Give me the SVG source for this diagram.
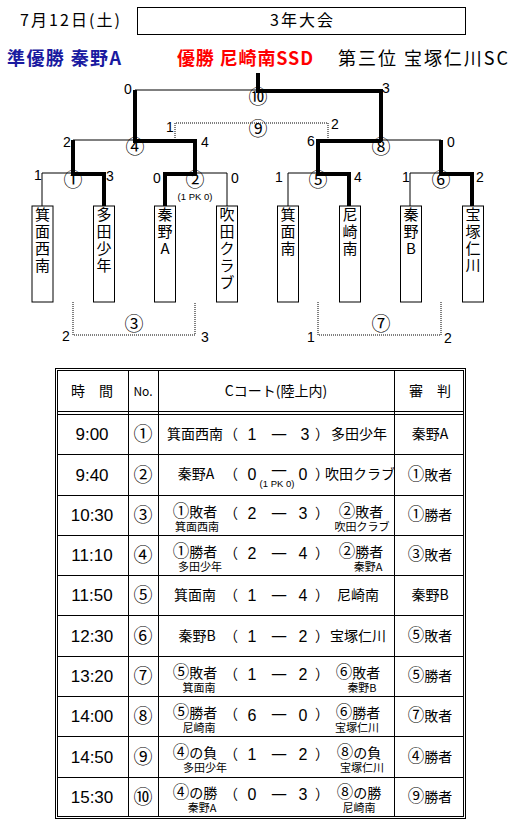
<svg xmlns="http://www.w3.org/2000/svg" width="518" height="826" viewBox="0 0 518 826">
<style>
.j{font-family:"Noto Sans CJK JP",sans-serif;fill:#000}
.n{font-family:"Liberation Sans",sans-serif;font-size:14px;text-anchor:middle;fill:#000}
.pk{font-family:"Liberation Sans",sans-serif;font-size:9.5px;text-anchor:middle;fill:#000}
.c{font-family:"Noto Sans CJK JP",sans-serif;font-size:19px;text-anchor:middle}
.ci{font-family:"Noto Sans CJK JP",sans-serif;font-size:16.5px}
.thin{fill:none;stroke:#000;stroke-width:1}
.thick{fill:none;stroke:#000;stroke-width:4}
.dot{fill:none;stroke:#000;stroke-width:1;stroke-dasharray:1 1}
.box{fill:#fff;stroke:#000;stroke-width:1}
.v{font-family:"Noto Sans CJK JP",sans-serif;font-size:15px;text-anchor:middle}
.tm{font-family:"Liberation Sans",sans-serif;font-size:17px;text-anchor:middle}
.m{font-family:"Noto Sans CJK JP",sans-serif;font-size:14px;text-anchor:middle}
.no{font-family:"Noto Sans CJK JP",sans-serif;font-size:12px;text-anchor:middle}
.d{font-family:"Noto Sans CJK JP",sans-serif;font-size:18px;text-anchor:middle}
.s{font-family:"Noto Sans CJK JP",sans-serif;font-size:11px;text-anchor:middle}
.sc{font-family:"Liberation Sans",sans-serif;font-size:16px;text-anchor:middle}
.tl{fill:none;stroke:#000;stroke-width:1}
</style>

<g id="header">
<text class="j" x="20" y="26" font-size="16" textLength="100" lengthAdjust="spacing">7月12日(土)</text>
<rect x="137.5" y="7.5" width="328" height="27" fill="#fff" stroke="#000"/>
<text class="j" x="270" y="26" font-size="16" textLength="63" lengthAdjust="spacing">3年大会</text>
<text class="j" x="7" y="65" font-size="18" font-weight="bold" style="fill:#1a1aa0" textLength="114" lengthAdjust="spacing">準優勝 秦野A</text>
<text class="j" x="177" y="65" font-size="18" font-weight="bold" style="fill:#ff0000" textLength="136" lengthAdjust="spacing">優勝  尼崎南SSD</text>
<text class="j" x="338" y="65" font-size="18" textLength="170" lengthAdjust="spacing">第三位  宝塚仁川SC</text>
</g>

<g id="connectors">
<path class="thin" d="M135,90 H258"/>
<path class="thick" d="M258,73 V91 H381 V141"/>
<path class="thick" d="M135,90 V141 H195 V174 H165 V206"/>
<path class="thin" d="M73,140 H135"/>
<path class="thick" d="M73,140 V174 H104 V206"/>
<path class="thin" d="M42,206 V173 H73"/>
<path class="thin" d="M195,173 H227 V206"/>
<path class="thick" d="M381,141 H318 V174 H349 V206"/>
<path class="thin" d="M381,140 H441"/>
<path class="thick" d="M441,140 V174 H472 V206"/>
<path class="thin" d="M288,206 V173 H318"/>
<path class="thin" d="M410,206 V173 H441"/>
<path class="dot" d="M175,140 V123 H328 V138"/>
<path class="dot" d="M73,302 V335 H195 V302"/>
<path class="dot" d="M318,302 V335 H441 V302"/>
<text class="n" x="128" y="94">0</text>
<text class="n" x="386" y="93">3</text>
<text class="n" x="170" y="132">1</text>
<text class="n" x="335" y="129">2</text>
<text class="n" x="67" y="147">2</text>
<text class="n" x="205" y="147">4</text>
<text class="n" x="311" y="146">6</text>
<text class="n" x="451" y="147">0</text>
<text class="n" x="38" y="180">1</text>
<text class="n" x="110" y="181">3</text>
<text class="n" x="157" y="183">0</text>
<text class="n" x="235" y="183">0</text>
<text class="n" x="279" y="182">1</text>
<text class="n" x="358" y="182">4</text>
<text class="n" x="406" y="182">1</text>
<text class="n" x="480" y="182">2</text>
<text class="n" x="66" y="341">2</text>
<text class="n" x="205" y="342">3</text>
<text class="n" x="311" y="342">1</text>
<text class="n" x="448" y="343">2</text>
<text class="c" x="258" y="104">⑩</text>
<text class="c" x="258" y="136">⑨</text>
<text class="c" x="135" y="154">④</text>
<text class="c" x="381" y="154">⑧</text>
<text class="c" x="73" y="187">①</text>
<text class="c" x="195" y="187">②</text>
<text class="c" x="318" y="187">⑤</text>
<text class="c" x="441" y="187">⑥</text>
<text class="c" x="134" y="331">③</text>
<text class="c" x="381" y="331">⑦</text>
<text class="pk" x="195" y="200">(1 PK 0)</text>
</g>

<g id="team-minoo-seinan"><rect class="box" x="32" y="206" width="21" height="96"/>
<text class="v" x="42.5" y="220">箕</text><text class="v" x="42.5" y="237">面</text><text class="v" x="42.5" y="254">西</text><text class="v" x="42.5" y="271">南</text></g>
<g id="team-tada"><rect class="box" x="93.5" y="206" width="21" height="96"/>
<text class="v" x="104" y="220">多</text><text class="v" x="104" y="237">田</text><text class="v" x="104" y="254">少</text><text class="v" x="104" y="271">年</text></g>
<g id="team-hadano-a"><rect class="box" x="154.5" y="206" width="21" height="96"/>
<text class="v" x="165" y="220">秦</text><text class="v" x="165" y="237">野</text><text class="v" x="165" y="254">A</text></g>
<g id="team-suita"><rect class="box" x="216.5" y="206" width="21" height="96"/>
<text class="v" x="227" y="220">吹</text><text class="v" x="227" y="237">田</text><text class="v" x="227" y="254">ク</text><text class="v" x="227" y="271">ラ</text><text class="v" x="227" y="288">ブ</text></g>
<g id="team-minoo-minami"><rect class="box" x="277.5" y="206" width="21" height="96"/>
<text class="v" x="288" y="220">箕</text><text class="v" x="288" y="237">面</text><text class="v" x="288" y="254">南</text></g>
<g id="team-amagasaki"><rect class="box" x="339.5" y="206" width="21" height="96"/>
<text class="v" x="350" y="220">尼</text><text class="v" x="350" y="237">崎</text><text class="v" x="350" y="254">南</text></g>
<g id="team-hadano-b"><rect class="box" x="400.5" y="206" width="21" height="96"/>
<text class="v" x="411" y="220">秦</text><text class="v" x="411" y="237">野</text><text class="v" x="411" y="254">B</text></g>
<g id="team-takarazuka"><rect class="box" x="462.5" y="206" width="21" height="96"/>
<text class="v" x="473" y="220">宝</text><text class="v" x="473" y="237">塚</text><text class="v" x="473" y="254">仁</text><text class="v" x="473" y="271">川</text></g>

<g id="table">
<rect class="tl" x="55.5" y="368.5" width="410" height="450"/>
<rect class="tl" x="57.5" y="370.5" width="406" height="446"/>
<path class="tl" d="M128.5,371 V817 M158.5,371 V817 M394.5,371 V817"/>
<path class="tl" d="M58,411.5 H463 M58,414.5 H463 M58,454.5 H463 M58,495.5 H463 M58,535.5 H463 M58,575.5 H463 M58,615.5 H463 M58,656.5 H463 M58,696.5 H463 M58,736.5 H463 M58,777.5 H463"/>
<text class="m" x="92" y="396">時　間</text>
<text class="no" x="143" y="396">No.</text>
<text class="m" x="276" y="396">Cコート(陸上内)</text>
<text class="m" x="430" y="396">審　判</text>

<g class="row">
<text class="tm" x="92" y="440">9:00</text><text class="c" x="143" y="441">①</text>
<text class="m" x="195" y="439">箕面西南</text>
<text class="m" x="231" y="439">（</text><text class="sc" x="252" y="440">1</text><text class="d" x="279" y="440">—</text><text class="sc" x="305" y="440">3</text><text class="m" x="322" y="439">）</text>
<text class="m" x="359" y="439">多田少年</text>
<text class="m" x="430" y="439">秦野A</text>
</g>
<g class="row">
<text class="tm" x="92" y="481">9:40</text><text class="c" x="143" y="482">②</text>
<text class="m" x="196" y="479">秦野A</text>
<text class="m" x="231" y="479">（</text><text class="sc" x="252" y="480">0</text><text class="d" x="279" y="476">—</text><text class="sc" x="303" y="480">0</text><text class="m" x="322" y="479">）</text>
<text class="pk" x="277" y="487">(1 PK 0)</text>
<text class="m" x="360" y="479">吹田クラブ</text>
<text class="m" x="430" y="480"><tspan class="ci">①</tspan>敗者</text>
</g>
<g class="row">
<text class="tm" x="92" y="521">10:30</text><text class="c" x="143" y="522">③</text>
<text class="m" x="195" y="517"><tspan class="ci">①</tspan>敗者</text><text class="s" x="197" y="531">箕面西南</text>
<text class="m" x="231" y="518">（</text><text class="sc" x="252" y="519">2</text><text class="d" x="279" y="519">—</text><text class="sc" x="303" y="519">3</text><text class="m" x="322" y="518">）</text>
<text class="m" x="361" y="517"><tspan class="ci">②</tspan>敗者</text><text class="s" x="362" y="531">吹田クラブ</text>
<text class="m" x="430" y="520"><tspan class="ci">①</tspan>勝者</text>
</g>
<g class="row">
<text class="tm" x="92" y="561">11:10</text><text class="c" x="143" y="562">④</text>
<text class="m" x="195" y="557"><tspan class="ci">①</tspan>勝者</text><text class="s" x="200" y="571">多田少年</text>
<text class="m" x="231" y="558">（</text><text class="sc" x="252" y="559">2</text><text class="d" x="279" y="559">—</text><text class="sc" x="303" y="559">4</text><text class="m" x="322" y="558">）</text>
<text class="m" x="361" y="557"><tspan class="ci">②</tspan>勝者</text><text class="s" x="368" y="571">秦野A</text>
<text class="m" x="430" y="560"><tspan class="ci">③</tspan>敗者</text>
</g>
<g class="row">
<text class="tm" x="92" y="601">11:50</text><text class="c" x="143" y="602">⑤</text>
<text class="m" x="195" y="600">箕面南</text>
<text class="m" x="231" y="600">（</text><text class="sc" x="252" y="601">1</text><text class="d" x="279" y="601">—</text><text class="sc" x="303" y="601">4</text><text class="m" x="322" y="600">）</text>
<text class="m" x="358" y="600">尼崎南</text>
<text class="m" x="430" y="600">秦野B</text>
</g>
<g class="row">
<text class="tm" x="92" y="642">12:30</text><text class="c" x="143" y="643">⑥</text>
<text class="m" x="197" y="641">秦野B</text>
<text class="m" x="231" y="641">（</text><text class="sc" x="252" y="642">1</text><text class="d" x="279" y="642">—</text><text class="sc" x="303" y="642">2</text><text class="m" x="322" y="641">）</text>
<text class="m" x="358" y="641">宝塚仁川</text>
<text class="m" x="430" y="641"><tspan class="ci">⑤</tspan>敗者</text>
</g>
<g class="row">
<text class="tm" x="92" y="682">13:20</text><text class="c" x="143" y="683">⑦</text>
<text class="m" x="195" y="678"><tspan class="ci">⑤</tspan>敗者</text><text class="s" x="199" y="692">箕面南</text>
<text class="m" x="231" y="679">（</text><text class="sc" x="252" y="680">1</text><text class="d" x="279" y="680">—</text><text class="sc" x="303" y="680">2</text><text class="m" x="322" y="679">）</text>
<text class="m" x="358" y="678"><tspan class="ci">⑥</tspan>敗者</text><text class="s" x="362" y="692">秦野B</text>
<text class="m" x="430" y="681"><tspan class="ci">⑤</tspan>勝者</text>
</g>
<g class="row">
<text class="tm" x="92" y="722">14:00</text><text class="c" x="143" y="723">⑧</text>
<text class="m" x="195" y="718"><tspan class="ci">⑤</tspan>勝者</text><text class="s" x="199" y="732">尼崎南</text>
<text class="m" x="231" y="719">（</text><text class="sc" x="252" y="721">6</text><text class="d" x="279" y="720">—</text><text class="sc" x="303" y="721">0</text><text class="m" x="322" y="719">）</text>
<text class="m" x="358" y="718"><tspan class="ci">⑥</tspan>勝者</text><text class="s" x="357" y="732">宝塚仁川</text>
<text class="m" x="430" y="721"><tspan class="ci">⑦</tspan>敗者</text>
</g>
<g class="row">
<text class="tm" x="92" y="763">14:50</text><text class="c" x="143" y="764">⑨</text>
<text class="m" x="195" y="758"><tspan class="ci">④</tspan>の負</text><text class="s" x="205" y="772">多田少年</text>
<text class="m" x="231" y="759">（</text><text class="sc" x="252" y="760">1</text><text class="d" x="279" y="760">—</text><text class="sc" x="303" y="760">2</text><text class="m" x="322" y="759">）</text>
<text class="m" x="359" y="758"><tspan class="ci">⑧</tspan>の負</text><text class="s" x="362" y="772">宝塚仁川</text>
<text class="m" x="430" y="762"><tspan class="ci">④</tspan>勝者</text>
</g>
<g class="row">
<text class="tm" x="92" y="803">15:30</text><text class="c" x="143" y="804">⑩</text>
<text class="m" x="195" y="798"><tspan class="ci">④</tspan>の勝</text><text class="s" x="202" y="812">秦野A</text>
<text class="m" x="231" y="799">（</text><text class="sc" x="252" y="800">0</text><text class="d" x="279" y="800">—</text><text class="sc" x="303" y="800">3</text><text class="m" x="322" y="799">）</text>
<text class="m" x="359" y="798"><tspan class="ci">⑧</tspan>の勝</text><text class="s" x="359" y="812">尼崎南</text>
<text class="m" x="430" y="802"><tspan class="ci">⑨</tspan>勝者</text>
</g>
</g>
</svg>
